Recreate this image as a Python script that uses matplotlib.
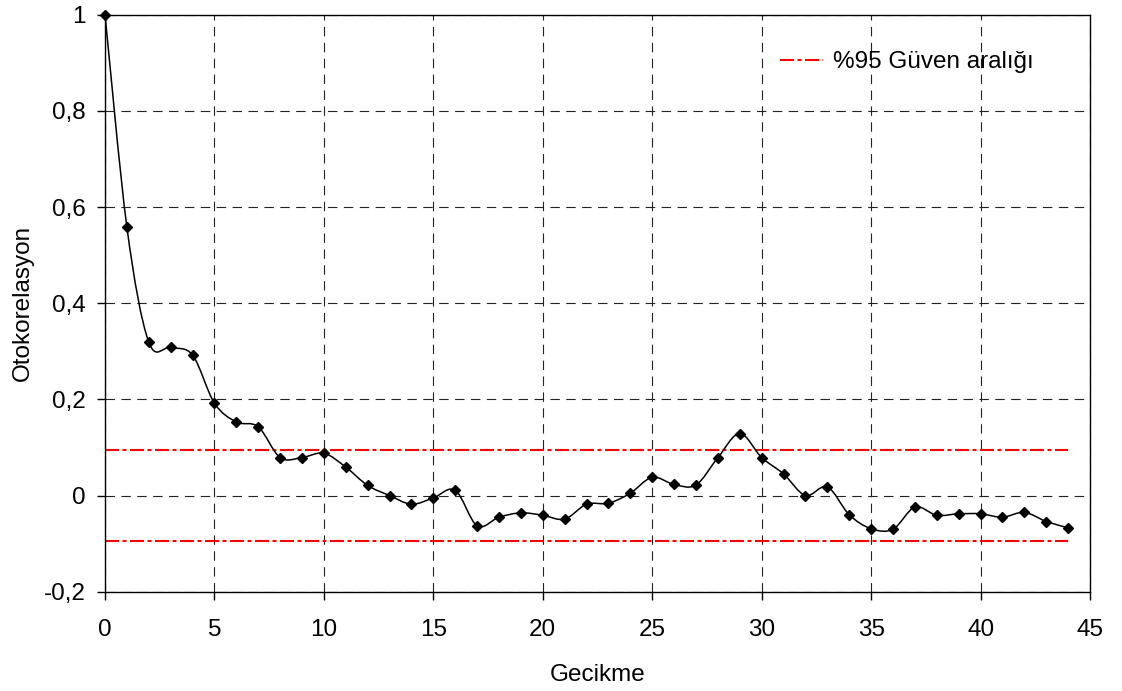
import matplotlib
matplotlib.use("Agg")
import matplotlib.pyplot as plt
import numpy as np
from matplotlib.path import Path
from matplotlib.patches import PathPatch
from matplotlib.ticker import FuncFormatter, MultipleLocator
from matplotlib.lines import Line2D

plt.rcParams['font.family'] = ['Liberation Sans', 'DejaVu Sans']

# gecikme ve otokorelasyon degerleri
gecikme = list(range(45))
otokor = [1.0, 0.558, 0.319, 0.308, 0.292, 0.192, 0.153, 0.143, 0.079, 0.079,
          0.088, 0.059, 0.021, 0.0, -0.018, -0.005, 0.011, -0.063, -0.045, -0.036,
          -0.041, -0.049, -0.018, -0.016, 0.005, 0.038, 0.023, 0.022, 0.079, 0.129,
          0.079, 0.045, 0.0, 0.018, -0.040, -0.069, -0.070, -0.024, -0.041, -0.038,
          -0.038, -0.045, -0.035, -0.054, -0.067]
guven_ust = 0.095
guven_alt = -0.095
guven_x = [0, 44]

fig = plt.figure(figsize=(11.22, 6.91), dpi=100)
ax = fig.add_axes([0.0936, 0.1437, 0.9715 - 0.0936, 0.9787 - 0.1437])

# yumusatilmis egri (Bezier, Catmull-Rom kontrol noktalari)
x = np.array(gecikme, dtype=float)
y = np.array(otokor, dtype=float)
n = len(x)
verts = [(x[0], y[0])]
codes = [Path.MOVETO]
for i in range(n - 1):
    i0 = max(i - 1, 0)
    i3 = min(i + 2, n - 1)
    c1 = (x[i] + (x[i + 1] - x[i0]) / 6.0, y[i] + (y[i + 1] - y[i0]) / 6.0)
    c2 = (x[i + 1] - (x[i3] - x[i]) / 6.0, y[i + 1] - (y[i3] - y[i]) / 6.0)
    verts += [c1, c2, (x[i + 1], y[i + 1])]
    codes += [Path.CURVE4, Path.CURVE4, Path.CURVE4]
ax.add_patch(PathPatch(Path(verts, codes), facecolor='none', edgecolor='black',
                       lw=1.1, zorder=3))
ax.plot(x, y, linestyle='none', marker='D', markersize=5.5, color='black',
        zorder=4, clip_on=False)

# %95 guven araligi
kesik = (6.7, 1.7, 1.9, 1.7)
ax.plot(guven_x, [guven_ust, guven_ust], color='red', lw=1.5, dashes=kesik, zorder=2)
ax.plot(guven_x, [guven_alt, guven_alt], color='red', lw=1.5, dashes=kesik, zorder=2)

ax.set_xlim(0, 45)
ax.set_ylim(-0.2, 1.0)
ax.xaxis.set_major_locator(MultipleLocator(5))
ax.yaxis.set_major_locator(MultipleLocator(0.2))
ax.yaxis.set_major_formatter(FuncFormatter(
    lambda v, p: ('%g' % round(v, 2)).replace('.', ',')))
ax.grid(True, color='#222222', lw=0.8, dashes=(8.5, 5.8))
ax.tick_params(direction='out', length=6, width=1, labelsize=17.5)
ax.tick_params(axis='y', pad=8)
ax.tick_params(axis='x', pad=14)
for s in ax.spines.values():
    s.set_linewidth(1.0)

ax.set_xlabel('Gecikme', fontsize=17.5, labelpad=16)
ax.set_ylabel('Otokorelasyon', fontsize=17.5, labelpad=7)

h = Line2D([], [], color='red', lw=1.5, dashes=kesik)
ax.legend([h], ['%95 Güven aralığı'], loc='upper right', frameon=False,
          fontsize=17.5, bbox_to_anchor=(0.965, 0.975), handlelength=1.8,
          handletextpad=0.4)

fig.savefig('out.png', dpi=100)
